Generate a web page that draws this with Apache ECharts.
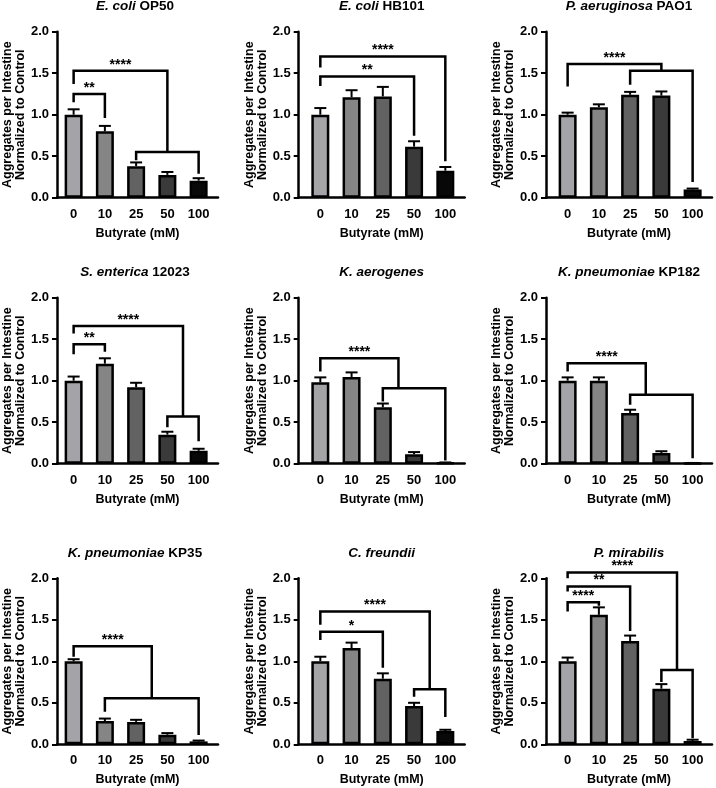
<!DOCTYPE html>
<html>
<head>
<meta charset="utf-8">
<script src="https://cdn.jsdelivr.net/npm/echarts@6/dist/echarts.min.js"></script>
<style>html,body{margin:0;padding:0;background:#fff}#c{width:716px;height:788px}</style>
</head>
<body>
<div id="c"></div>
<script>
// ---------- data ----------
const categories = ['0', '10', '25', '50', '100'];
const yTicks = [0, 0.5, 1.0, 1.5, 2.0];

// bracket rows: [fromBar, toBar, level, leftFootEnd, rightFootEnd, label]
const op50Title = ['E. coli', 'OP50'];
const op50Values = [1.0, 0.80, 0.38, 0.275, 0.205];
const op50Errors = [0.065, 0.065, 0.045, 0.035, 0.03];
const op50Brackets = [[0, 1, 1.25, 1.15, 0.96, '**'], [0, 3, 1.53, 1.37, 0.55, '****'], [2, 4, 0.55, 0.45, 0.29, '']];

const hb101Title = ['E. coli', 'HB101'];
const hb101Values = [1.0, 1.21, 1.22, 0.615, 0.325];
const hb101Errors = [0.08, 0.085, 0.115, 0.065, 0.045];
const hb101Brackets = [[0, 4, 1.70, 1.57, 0.44, '****'], [0, 3, 1.46, 1.345, 0.745, '**']];

const pao1Title = ['P. aeruginosa', 'PAO1'];
const pao1Values = [1.0, 1.09, 1.24, 1.23, 0.10];
const pao1Errors = [0.025, 0.035, 0.035, 0.05, 0.01];
const pao1Brackets = [[0, 3, 1.61, 1.34, 1.53, '****'], [2, 4, 1.53, 1.36, 0.19, '']];

const sentTitle = ['S. enterica', '12023'];
const sentValues = [1.0, 1.205, 0.92, 0.35, 0.155];
const sentErrors = [0.05, 0.065, 0.055, 0.035, 0.025];
const sentBrackets = [[0, 1, 1.44, 1.32, 1.35, '**'], [0, 3.5, 1.66, 1.57, 0.57, '****'], [3, 4, 0.57, 0.44, 0.27, '']];

const kaerTitle = ['K. aerogenes', ''];
const kaerValues = [0.98, 1.045, 0.68, 0.115, 0.01];
const kaerErrors = [0.06, 0.055, 0.045, 0.025, 0.005];
const kaerBrackets = [[0, 2.5, 1.27, 1.11, 0.91, '****'], [2, 4, 0.91, 0.75, 0.04, '']];

const kp182Title = ['K. pneumoniae', 'KP182'];
const kp182Values = [1.0, 1.0, 0.61, 0.13, 0.005];
const kp182Errors = [0.04, 0.04, 0.04, 0.02, 0.004];
const kp182Brackets = [[0, 2.5, 1.21, 1.11, 0.83, '****'], [2, 4, 0.83, 0.71, 0.065, '']];

const kp35Title = ['K. pneumoniae', 'KP35'];
const kp35Values = [1.0, 0.28, 0.27, 0.115, 0.035];
const kp35Errors = [0.025, 0.03, 0.025, 0.02, 0.01];
const kp35Brackets = [[0, 2.5, 1.18, 1.055, 0.554, '****'], [1, 4, 0.554, 0.393, 0.112, '']];

const cfreTitle = ['C. freundii', ''];
const cfreValues = [1.0, 1.16, 0.79, 0.46, 0.16];
const cfreErrors = [0.055, 0.065, 0.065, 0.04, 0.015];
const cfreBrackets = [[0, 3.5, 1.60, 1.44, 0.663, '****'], [0, 2, 1.357, 1.257, 0.923, '*'], [3, 4, 0.663, 0.574, 0.33, '']];

const pmirTitle = ['P. mirabilis', ''];
const pmirValues = [1.0, 1.56, 1.245, 0.67, 0.04];
const pmirErrors = [0.045, 0.09, 0.065, 0.055, 0.015];
const pmirBrackets = [[0, 3.5, 2.07, 2.0, 0.895, '****'], [0, 2, 1.90, 1.84, 1.365, '**'], [0, 1, 1.71, 1.60, 1.67, '****'], [3, 4, 0.895, 0.75, 0.072, '']];

const panels = [
  {title: op50Title, values: op50Values, errors: op50Errors, brackets: op50Brackets},
  {title: hb101Title, values: hb101Values, errors: hb101Errors, brackets: hb101Brackets},
  {title: pao1Title, values: pao1Values, errors: pao1Errors, brackets: pao1Brackets},
  {title: sentTitle, values: sentValues, errors: sentErrors, brackets: sentBrackets},
  {title: kaerTitle, values: kaerValues, errors: kaerErrors, brackets: kaerBrackets},
  {title: kp182Title, values: kp182Values, errors: kp182Errors, brackets: kp182Brackets},
  {title: kp35Title, values: kp35Values, errors: kp35Errors, brackets: kp35Brackets},
  {title: cfreTitle, values: cfreValues, errors: cfreErrors, brackets: cfreBrackets},
  {title: pmirTitle, values: pmirValues, errors: pmirErrors, brackets: pmirBrackets}
];

// ---------- styling / layout ----------
const FONT = '"Liberation Sans", Arial, Helvetica, sans-serif';
const barColors = ['#a3a3a8', '#858585', '#626262', '#3a3a3a', '#080808'];
const colX = [52, 298.7, 546];
const rowTop = [31.7, 297.7, 578.3];
const PLOT_W = 166, PLOT_H = 166, INNER_OFF = 6, INNER_W = 156.25;
const LW = 2.5;

function errRender(params, api) {
  const b = api.coord([api.value(0), api.value(1)]);
  const t = api.coord([api.value(0), api.value(2)]);
  return {type: 'group', children: [
    {type: 'line', shape: {x1: b[0], y1: b[1], x2: t[0], y2: t[1]}, style: {stroke: '#000', lineWidth: 2}},
    {type: 'line', shape: {x1: t[0] - 6, y1: t[1], x2: t[0] + 6, y2: t[1]}, style: {stroke: '#000', lineWidth: 2}}
  ]};
}

function makeBracketRender(list) {
  return function (params, api) {
    const row = list[params.dataIndex];
    const pA = api.coord([row[0], row[3]]);
    const pB = api.coord([row[0], row[2]]);
    const pC = api.coord([row[1], row[2]]);
    const pD = api.coord([row[1], row[4]]);
    const children = [{
      type: 'polyline',
      shape: {points: [pA, pB, pC, pD]},
      style: {stroke: '#000', lineWidth: LW, fill: null, lineJoin: 'miter', lineCap: 'butt'}
    }];
    if (row[5]) {
      children.push({
        type: 'text',
        x: (pB[0] + pC[0]) / 2, y: pB[1] - 6,
        style: {text: row[5], fontSize: 14, fontWeight: 'bold', fontFamily: FONT, fill: '#000', align: 'center', verticalAlign: 'middle'}
      });
    }
    return {type: 'group', children};
  };
}

const grids = [], xAxes = [], yAxes = [], series = [], graphics = [];
panels.forEach((p, k) => {
  const col = k % 3, row = Math.floor(k / 3);
  const ax = colX[col], top = rowTop[row];
  const g = grids.length;
  grids.push({left: ax, top: top, width: PLOT_W, height: PLOT_H, containLabel: false});
  grids.push({left: ax + INNER_OFF, top: top, width: INNER_W, height: PLOT_H, containLabel: false});
  const xo = xAxes.length, yo = yAxes.length;
  xAxes.push({
    gridIndex: g, type: 'value', min: 0, max: 1,
    axisLine: {show: true, lineStyle: {color: '#000', width: LW}},
    axisTick: {show: false}, axisLabel: {show: false}, splitLine: {show: false},
    name: 'Butyrate (mM)', nameLocation: 'middle', nameGap: 29,
    nameTextStyle: {fontSize: 12.5, fontWeight: 'bold', color: '#000', fontFamily: FONT}
  });
  xAxes.push({
    gridIndex: g + 1, type: 'category', data: categories,
    axisLine: {show: false}, axisTick: {show: false}, splitLine: {show: false},
    axisLabel: {margin: 10, fontSize: 13, fontWeight: 'bold', color: '#000', fontFamily: FONT}
  });
  xAxes.push({gridIndex: g + 1, type: 'value', min: -0.5, max: 4.5, show: false});
  yAxes.push({
    gridIndex: g, type: 'value', min: yTicks[0], max: yTicks[yTicks.length - 1], interval: 0.5,
    axisLine: {show: true, lineStyle: {color: '#000', width: LW}},
    axisTick: {show: true, length: 5, lineStyle: {color: '#000', width: 2}},
    axisLabel: {formatter: v => v.toFixed(1), margin: 8, fontSize: 13, fontWeight: 'bold', color: '#000', fontFamily: FONT},
    splitLine: {show: false},
    name: 'Aggregates per Intestine\nNormalized to Control', nameLocation: 'middle', nameRotate: 90, nameGap: 26,
    nameTextStyle: {fontSize: 12.5, fontWeight: 'bold', color: '#000', fontFamily: FONT, lineHeight: 13}
  });
  yAxes.push({gridIndex: g + 1, type: 'value', min: 0, max: 2, show: false});

  series.push({
    type: 'bar', xAxisIndex: xo + 1, yAxisIndex: yo + 1, barWidth: 18, silent: true,
    itemStyle: {borderColor: '#000', borderWidth: LW},
    data: p.values.map((v, i) => ({value: v, itemStyle: {color: barColors[i]}}))
  });
  series.push({
    type: 'custom', xAxisIndex: xo + 2, yAxisIndex: yo + 1, silent: true,
    renderItem: errRender,
    data: p.values.map((v, i) => [i, v, v + p.errors[i]])
  });
  series.push({
    type: 'custom', xAxisIndex: xo + 2, yAxisIndex: yo + 1, silent: true, clip: false,
    renderItem: makeBracketRender(p.brackets),
    data: p.brackets.map(b => [b[0], b[2], b[1], b[3], b[4]])
  });

  const txt = p.title[1] ? '{i|' + p.title[0] + '} {b|' + p.title[1] + '}' : '{i|' + p.title[0] + '}';
  graphics.push({
    type: 'text', x: ax + PLOT_W / 2, y: top - 25, silent: true,
    style: {
      text: txt, align: 'center', verticalAlign: 'middle', fill: '#000',
      fontSize: 13.5, fontWeight: 'bold', fontFamily: FONT,
      rich: {
        i: {fontSize: 13.5, fontWeight: 'bold', fontStyle: 'italic', fontFamily: FONT, fill: '#000'},
        b: {fontSize: 13.5, fontWeight: 'bold', fontFamily: FONT, fill: '#000'}
      }
    }
  });
});

const chart = echarts.init(document.getElementById('c'), null, {renderer: 'canvas'});
chart.setOption({
  animation: false,
  backgroundColor: '#fff',
  grid: grids, xAxis: xAxes, yAxis: yAxes, series: series, graphic: graphics
});
</script>
</body>
</html>
